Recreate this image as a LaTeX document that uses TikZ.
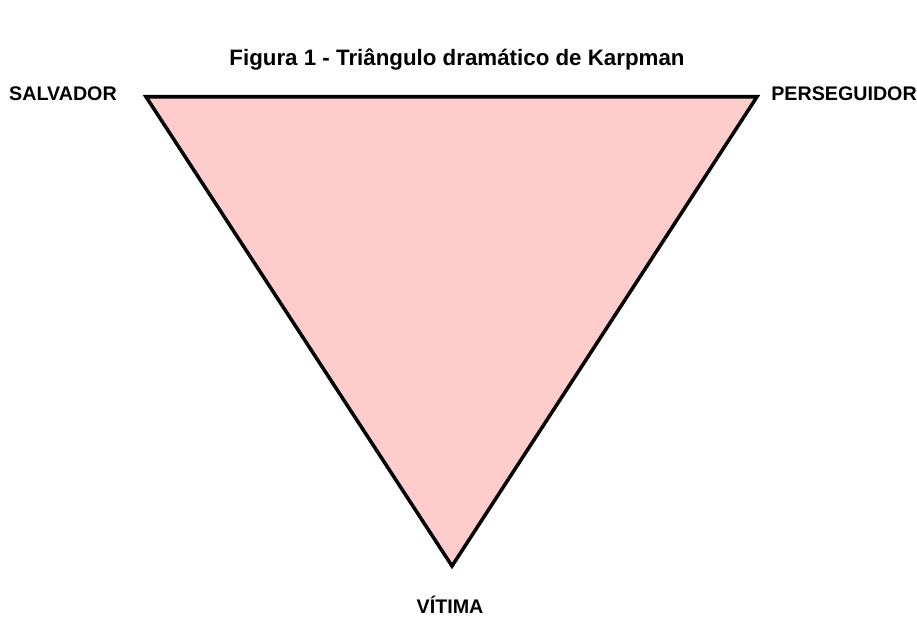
\documentclass[tikz,border=0pt]{standalone}
\usepackage{fontspec}
\setmainfont{Liberation Sans}
\definecolor{trifill}{HTML}{FFCCCC}
\tikzset{rolelabel/.style={font=\bfseries\fontsize{11.2}{13}\selectfont, inner sep=0.5pt}}

\begin{document}
\begin{tikzpicture}
        \useasboundingbox (0,0) rectangle (18.34,12.32);
        \coordinate (salv) at (2.92,10.385);
        \coordinate (pers) at (15.14,10.385);
        \coordinate (vit) at (9.04,1.0);
        \filldraw[fill=trifill, line width=2pt, line join=miter] (salv) -- (pers) -- (vit) -- cycle;
        \node (titulo) at (9.14,11.12) {\bfseries\fontsize{12.7}{15}\selectfont Figura 1 - Triângulo dramático de Karpman};
        \node[rolelabel] (lsalv) at (1.26,10.45) {SALVADOR};
        \node[rolelabel] (lpers) at (16.88,10.45) {PERSEGUIDOR};
        \node[rolelabel] (lvit) at (9.0,0.22) {VÍTIMA};
    \end{tikzpicture}
\end{document}
